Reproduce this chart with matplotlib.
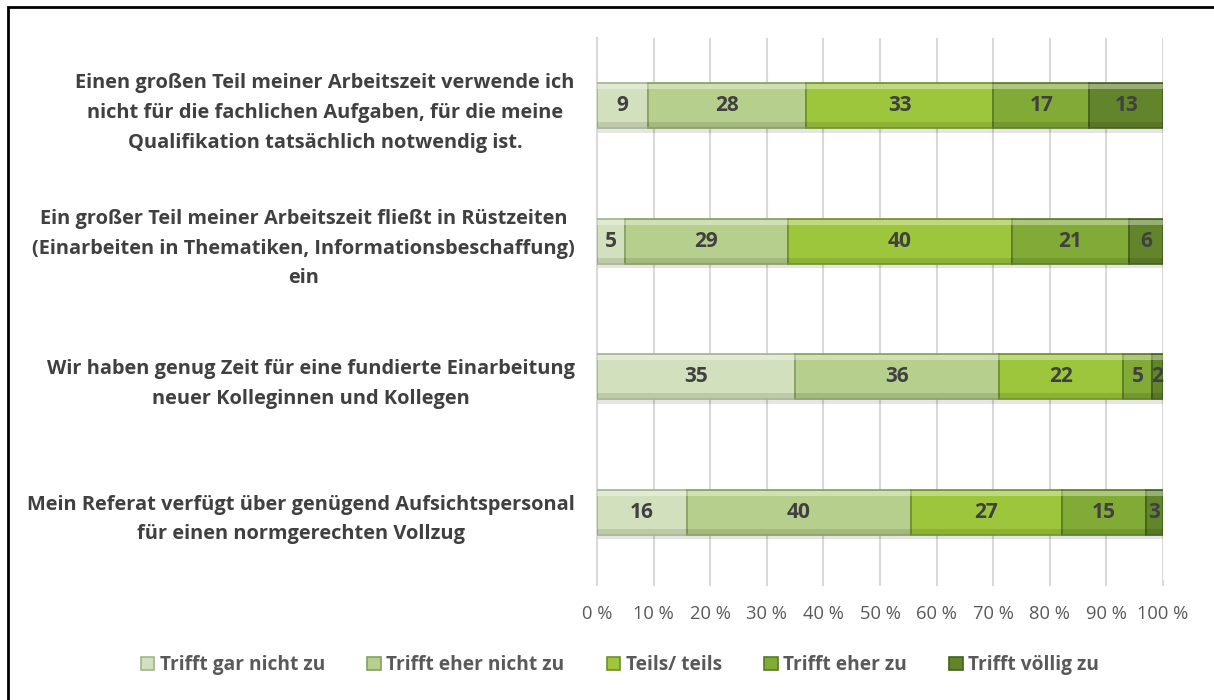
import numpy as np
import matplotlib.pyplot as plt
from matplotlib.patches import Rectangle

# statements (top to bottom) and answer shares in %
categories = [
    "Einen großen Teil meiner Arbeitszeit verwende ich\nnicht für die fachlichen Aufgaben, für die meine\nQualifikation tatsächlich notwendig ist.",
    "Ein großer Teil meiner Arbeitszeit fließt in Rüstzeiten\n(Einarbeiten in Thematiken, Informationsbeschaffung)\nein",
    "Wir haben genug Zeit für eine fundierte Einarbeitung\nneuer Kolleginnen und Kollegen",
    "Mein Referat verfügt über genügend Aufsichtspersonal\nfür einen normgerechten Vollzug",
]
series_names = ["Trifft gar nicht zu", "Trifft eher nicht zu", "Teils/ teils",
                "Trifft eher zu", "Trifft völlig zu"]
gar_nicht = [9, 5, 35, 16]
eher_nicht = [28, 29, 36, 40]
teils = [33, 40, 22, 27]
eher_zu = [17, 21, 5, 15]
voellig = [13, 6, 2, 3]
xticks = [0, 10, 20, 30, 40, 50, 60, 70, 80, 90, 100]

colors = ['#d3e0bd', '#b7cf8d', '#9dc63c', '#82aa36', '#62842a']
edges = ['#a3b38f', '#869e62', '#6f9028', '#5a7c24', '#42601b']

plt.rcParams['font.family'] = ['Open Sans', 'DejaVu Sans']

data = np.array([gar_nicht, eher_nicht, teils, eher_zu, voellig], dtype=float)
share = data / data.sum(axis=0) * 100  # 100 % stacked like Excel

fig = plt.figure(figsize=(12.14, 7.0), dpi=100)
ax = fig.add_axes([597 / 1214, 1 - 580 / 700, 566 / 1214, 542 / 700])

y = np.arange(len(categories))
left = np.zeros(len(categories))
for i, name in enumerate(series_names):
    # soft drop shadow
    ax.barh(y + 0.035, share[i], 0.33, left=left, color='#000000', alpha=0.10,
            linewidth=0, zorder=2)
    ax.barh(y, share[i], 0.33, left=left, color=colors[i], edgecolor=edges[i],
            linewidth=1.2, label=name, zorder=3)
    # bevel: light top strip, darker bottom strip
    ax.barh(y - 0.14, share[i], 0.04, left=left, color='white', alpha=0.35,
            linewidth=0, zorder=4)
    ax.barh(y + 0.14, share[i], 0.04, left=left, color='black', alpha=0.10,
            linewidth=0, zorder=4)
    for j in range(len(categories)):
        ax.text(left[j] + share[i][j] / 2, y[j], f"{int(data[i][j])}",
                ha='center', va='center', fontsize=15, fontweight='bold',
                color='#404040', zorder=5)
    left += share[i]

ax.set_xlim(0, 100)
ax.set_ylim(len(categories) - 0.5, -0.5)
ax.set_xticks(xticks, [f"{t} %" for t in xticks])
ax.set_yticks(y, categories)
ax.tick_params(axis='x', length=4, color='#d9d9d9', width=1.5, pad=14,
               labelsize=13.2, labelcolor='#595959')
ax.tick_params(axis='y', length=0, pad=16, labelsize=14.4, labelcolor='#404040')
for lab in ax.get_yticklabels():
    lab.set_fontweight('bold')
    lab.set_multialignment('center')
    lab.set_linespacing(1.65)
ax.xaxis.grid(True, color='#d9d9d9', linewidth=1.5)
ax.set_axisbelow(True)
for s in ['top', 'right', 'bottom']:
    ax.spines[s].set_visible(False)
ax.spines['left'].set_color('#d9d9d9')
ax.spines['left'].set_linewidth(1.5)

fig.legend(loc='center', bbox_to_anchor=(620 / 1214, 1 - 665 / 700), ncol=5,
           frameon=False, handlelength=0.7, handleheight=0.7, handletextpad=0.3,
           columnspacing=2.2, prop={'size': 13.8, 'weight': 'bold'},
           labelcolor='#595959')

# outer frame (only top and left edges are visible in the crop)
fig.patches.append(Rectangle((8 / 1214, -0.2), 2, 1.2 - 7 / 700, fill=False,
                             edgecolor='black', linewidth=2,
                             transform=fig.transFigure, figure=fig))

fig.savefig("out.png", dpi=100)
